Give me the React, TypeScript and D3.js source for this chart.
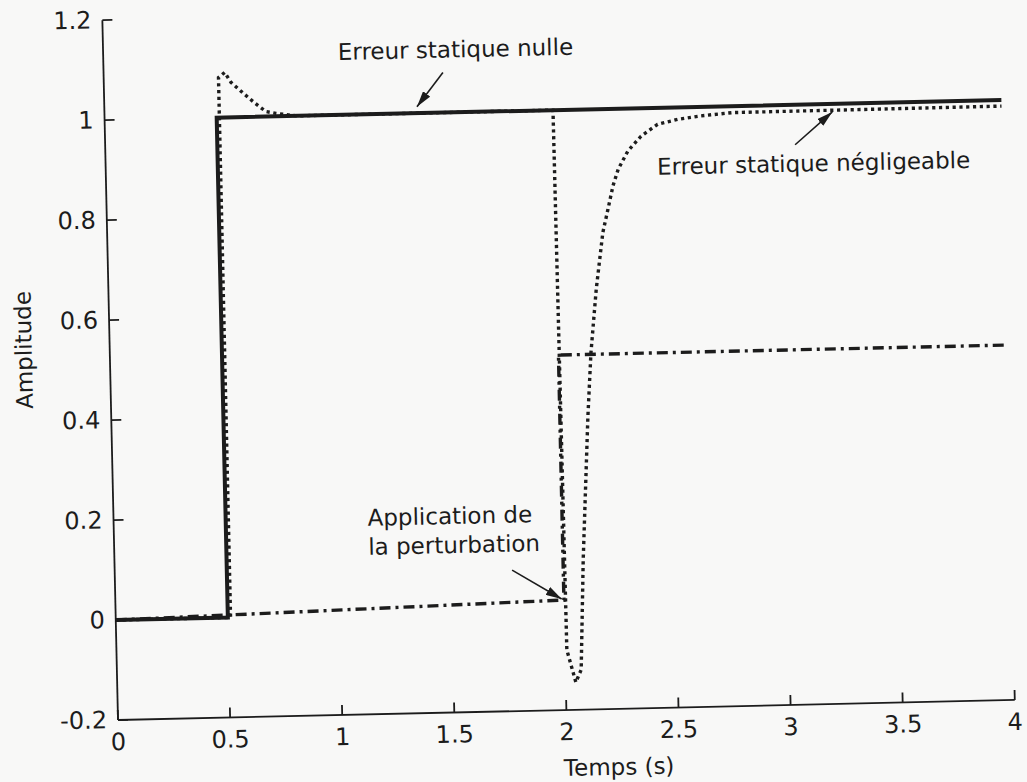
import React from "react";
import * as d3 from "d3";

// Step responses of the closed loop, with a load disturbance applied at t = 2 s
const timeNulle = [0, 0.5, 0.5, 4];
const ampNulle = [0, 0, 1, 1];

const timeNeglig = [
  0, 0.512, 0.512, 0.54, 0.567, 0.62, 0.67, 0.72, 0.765, 0.81, 0.855, 2.0, 2.008, 2.045, 2.07, 2.09,
  2.125, 2.145, 2.175, 2.21, 2.235, 2.26, 2.285, 2.33, 2.39, 2.465, 2.555, 2.66, 2.8, 4.0,
];
const ampNeglig = [
  0, 0, 1.08, 1.09, 1.07, 1.048, 1.028, 1.01, 1.006, 1.003, 1.0, 1.0, -0.08, -0.145, -0.12, 0.1,
  0.385, 0.513, 0.64, 0.753, 0.799, 0.846, 0.879, 0.915, 0.944, 0.967, 0.976, 0.982, 0.987, 0.988,
];

const timePerturb = [0, 0.5, 2.0, 2.0, 4.0];
const ampPerturb = [0, 0.005, 0.02, 0.51, 0.51];

const xTicks = [0, 0.5, 1, 1.5, 2, 2.5, 3, 3.5, 4];
const xTickLabels = ["0", "0.5", "1", "1.5", "2", "2.5", "3", "3.5", "4"];
const yTicks = [-0.2, 0, 0.2, 0.4, 0.6, 0.8, 1, 1.2];
const yTickLabels = ["-0.2", "0", "0.2", "0.4", "0.6", "0.8", "1", "1.2"];

// Annotations: text anchor (t, amplitude) and arrow from -> tip
const noteNulle = { text: ["Erreur statique nulle"], t: 1.047, a: 1.11, from: [1.513, 1.08], tip: [1.394, 1.013] };
const noteNeglig = { text: ["Erreur statique négligeable"], t: 2.458, a: 0.866, from: [3.076, 0.92], tip: [3.245, 0.984] };
const notePerturb = {
  text: ["Application de", "la perturbation"],
  t: 1.133,
  a: 0.177,
  from: [1.772, 0.082],
  tip: [1.99, 0.022],
};
const notes = [noteNulle, noteNeglig, notePerturb];

const W = 1027;
const H = 782;
const left = 118;
const top = 20;
const innerW = 897;
const innerH = 700;
const tilt = -1.28;
const ink = "#1c1c1c";
const font = "'DejaVu Sans', sans-serif";

export default function App() {
  const x = d3.scaleLinear().domain([0, 4]).range([0, innerW]);
  const y = d3.scaleLinear().domain([-0.2, 1.2]).range([innerH, 0]);
  const line = d3
    .line<[number, number]>()
    .x((d) => x(d[0]))
    .y((d) => y(d[1]));

  const nulle = line(d3.zip(timeNulle, ampNulle) as [number, number][]) || "";
  const neglig = line(d3.zip(timeNeglig, ampNeglig) as [number, number][]) || "";
  const perturb = line(d3.zip(timePerturb, ampPerturb) as [number, number][]) || "";
  const lineGap = 29;

  return (
    <svg
      width={W}
      height={H}
      style={{ position: "absolute", left: 0, top: 0, background: "#f8f8f7" }}
      fontFamily={font}
    >
      <defs>
        <marker
          id="head"
          viewBox="0 0 16 9"
          refX={16}
          refY={4.5}
          markerWidth={16}
          markerHeight={9}
          markerUnits="userSpaceOnUse"
          orient="auto"
        >
          <path d="M0,0 L16,4.5 L0,9 Z" fill={ink} />
        </marker>
      </defs>
      <rect width={W} height={H} fill="#f8f8f7" />
      <g transform={`rotate(${tilt}, ${left}, ${top + innerH})`}>
        <g transform={`translate(${left}, ${top})`}>
          {/* axes */}
          <line x1={0} y1={0} x2={0} y2={innerH} stroke={ink} strokeWidth={1.8} />
          <line x1={0} y1={innerH} x2={innerW} y2={innerH} stroke={ink} strokeWidth={1.8} />
          {yTicks.map((v, i) => (
            <g key={"y" + i}>
              <line x1={0} x2={10} y1={y(v)} y2={y(v)} stroke={ink} strokeWidth={1.8} />
              <text
                x={-11}
                y={y(v)}
                textAnchor="end"
                dominantBaseline="central"
                fontSize={24}
                fill={ink}
              >
                {yTickLabels[i]}
              </text>
            </g>
          ))}
          {xTicks.map((v, i) => (
            <g key={"x" + i}>
              <line x1={x(v)} x2={x(v)} y1={innerH} y2={innerH - 10} stroke={ink} strokeWidth={1.8} />
              <text
                x={x(v)}
                y={innerH + 22}
                textAnchor="middle"
                dominantBaseline="central"
                fontSize={24}
                fill={ink}
              >
                {xTickLabels[i]}
              </text>
            </g>
          ))}
          <text
            x={500}
            y={innerH + 58}
            textAnchor="middle"
            dominantBaseline="central"
            fontSize={23}
            fill={ink}
          >
            Temps (s)
          </text>
          <text
            transform={`translate(-86, ${y(0.544)}) rotate(-90)`}
            textAnchor="middle"
            dominantBaseline="central"
            fontSize={23}
            fill={ink}
          >
            Amplitude
          </text>

          {/* responses */}
          <path d={perturb} fill="none" stroke={ink} strokeWidth={3.4} strokeDasharray="11 5 3 5" />
          <path d={neglig} fill="none" stroke={ink} strokeWidth={3.4} strokeDasharray="3.2 3.6" />
          <path d={nulle} fill="none" stroke={ink} strokeWidth={4} />

          {/* annotations */}
          {notes.map((n, i) => (
            <g key={"n" + i}>
              {n.text.map((s, j) => (
                <text key={j} x={x(n.t)} y={y(n.a) + j * lineGap} fontSize={23} fill={ink}>
                  {s}
                </text>
              ))}
              <line
                x1={x(n.from[0])}
                y1={y(n.from[1])}
                x2={x(n.tip[0])}
                y2={y(n.tip[1])}
                stroke={ink}
                strokeWidth={1.6}
                markerEnd="url(#head)"
              />
            </g>
          ))}
        </g>
      </g>
    </svg>
  );
}
